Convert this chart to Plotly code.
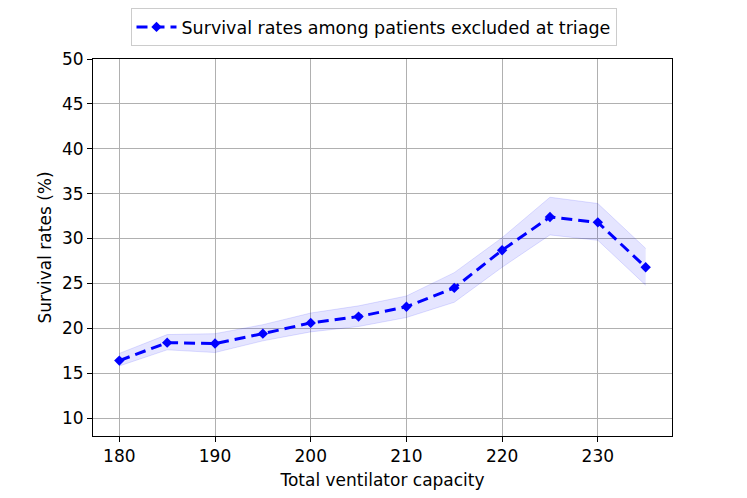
import plotly.graph_objects as go

capacity = [180, 185, 190, 195, 200, 205, 210, 215, 220, 225, 230, 235]
survival = [16.4, 18.4, 18.3, 19.4, 20.6, 21.3, 22.4, 24.5, 28.7, 32.4, 31.8, 26.8]
upper = [17.2, 19.3, 19.4, 20.4, 21.7, 22.5, 23.6, 26.2, 30.1, 34.6, 33.9, 28.9]
lower = [15.8, 17.6, 17.3, 18.6, 19.6, 20.2, 21.2, 22.9, 26.8, 30.4, 29.8, 24.8]
series_name = "Survival rates among patients excluded at triage"
x_ticks = [180, 190, 200, 210, 220, 230]
y_ticks = [10, 15, 20, 25, 30, 35, 40, 45, 50]

FONT = "DejaVu Sans"
FS = 17
W, H = 739, 490
fig = go.Figure()
fig.add_trace(go.Scatter(x=capacity, y=upper, mode="lines",
                         line=dict(color="rgba(0,0,255,0.12)", width=1),
                         showlegend=False, hoverinfo="skip"))
fig.add_trace(go.Scatter(x=capacity, y=lower, mode="lines",
                         line=dict(color="rgba(0,0,255,0.12)", width=1),
                         fill="tonexty", fillcolor="rgba(0,0,255,0.1)",
                         showlegend=False, hoverinfo="skip"))
fig.add_trace(go.Scatter(x=capacity, y=survival, mode="lines+markers", name=series_name,
                         line=dict(color="#0000ff", width=3, dash="11px,6px"),
                         marker=dict(symbol="diamond", size=8, color="#0000ff")))

axis_common = dict(showline=True, linecolor="black", linewidth=1, mirror=True,
                   ticks="outside", ticklen=5, tickcolor="black", automargin=False,
                   showgrid=True, gridcolor="#b0b0b0", gridwidth=1, zeroline=False,
                   tickfont=dict(family=FONT, size=FS, color="black"))
fig.update_xaxes(range=[177.25, 237.75], tickvals=x_ticks,
                 title=dict(text="Total ventilator capacity", standoff=8,
                            font=dict(family=FONT, size=FS, color="black")),
                 **axis_common)
fig.update_yaxes(range=[8, 50], tickvals=y_ticks,
                 title=dict(text="Survival rates (%)", standoff=6,
                            font=dict(family=FONT, size=FS, color="black")),
                 **axis_common)
fig.update_layout(
    width=W, height=H,
    margin=dict(l=85, r=75, t=51, b=62, autoexpand=False),
    plot_bgcolor="white", paper_bgcolor="white",
    font=dict(family=FONT, size=FS, color="black"),
    legend=dict(xref="container", yref="container", x=365.5 / W, xanchor="center",
                y=1.0, yanchor="top", orientation="h", itemwidth=40,
                bordercolor="#cccccc", borderwidth=1, bgcolor="white",
                font=dict(family=FONT, size=17.5)),
)
fig.write_html("out.html")
